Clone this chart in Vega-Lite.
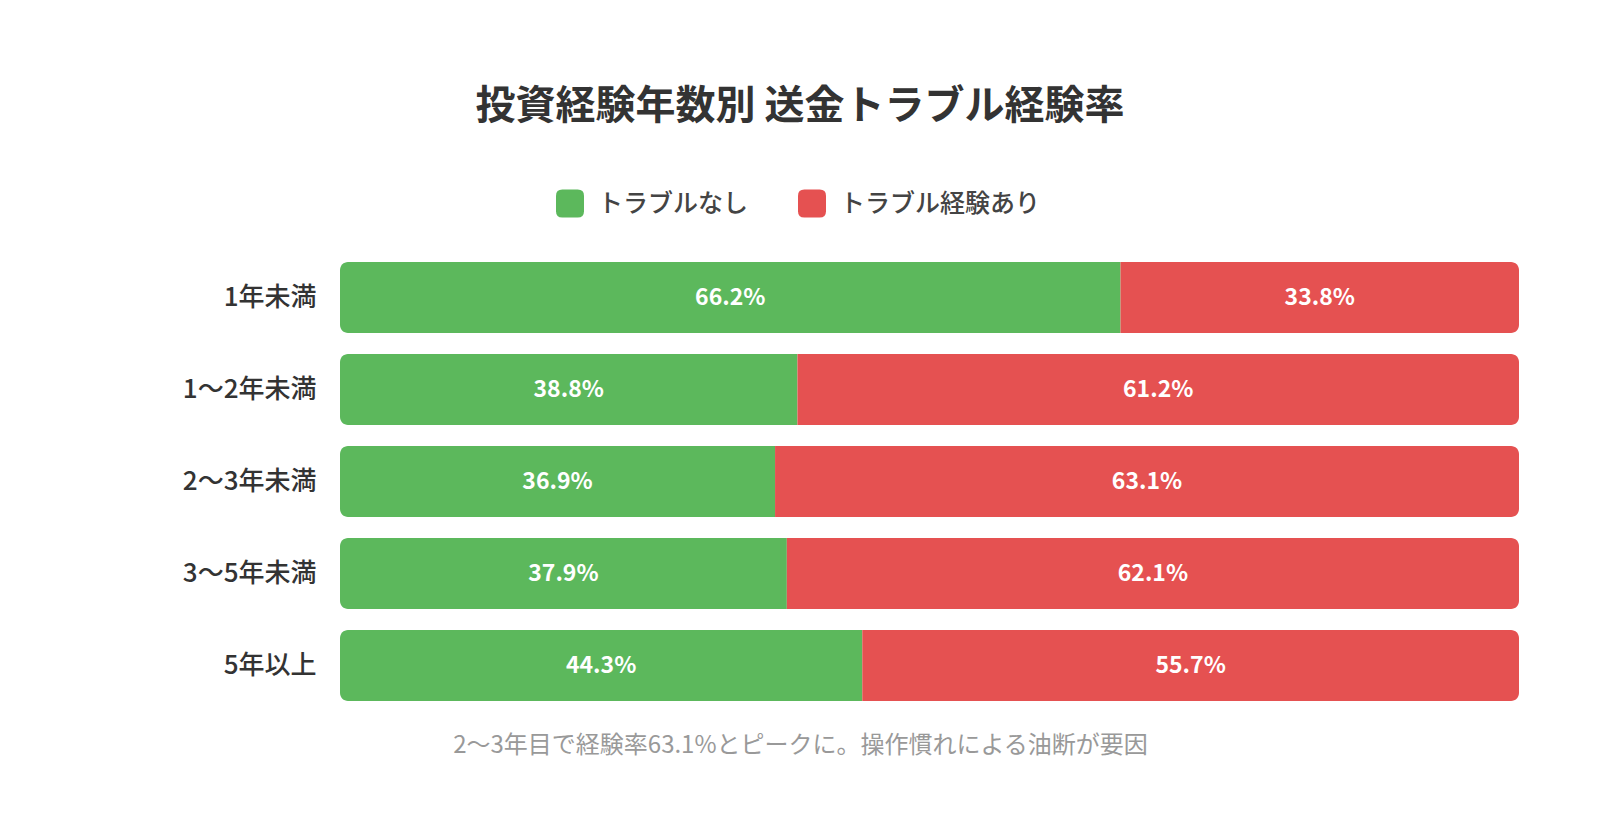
{
  "$schema": "https://vega.github.io/schema/vega-lite/v6.json",
  "autosize": {"type": "none"},
  "width": 1179,
  "height": 460,
  "padding": {"left": 340, "top": 251.5, "right": 81, "bottom": 114.5},
  "background": "#ffffff",
  "title": {
    "text": "投資経験年数別 送金トラブル経験率",
    "anchor": "middle",
    "frame": "group",
    "dx": -129.5,
    "offset": 63,
    "fontSize": 40,
    "fontWeight": "bold",
    "color": "#333333",
    "font": "Noto Sans CJK JP"
  },
  "data": {
    "values": [
      {"group": "1年未満", "status": "トラブルなし", "pct": 66.2},
      {"group": "1年未満", "status": "トラブル経験あり", "pct": 33.8},
      {"group": "1〜2年未満", "status": "トラブルなし", "pct": 38.8},
      {"group": "1〜2年未満", "status": "トラブル経験あり", "pct": 61.2},
      {"group": "2〜3年未満", "status": "トラブルなし", "pct": 36.9},
      {"group": "2〜3年未満", "status": "トラブル経験あり", "pct": 63.1},
      {"group": "3〜5年未満", "status": "トラブルなし", "pct": 37.9},
      {"group": "3〜5年未満", "status": "トラブル経験あり", "pct": 62.1},
      {"group": "5年以上", "status": "トラブルなし", "pct": 44.3},
      {"group": "5年以上", "status": "トラブル経験あり", "pct": 55.7}
    ]
  },
  "transform": [
    {"stack": "pct", "groupby": ["group"], "sort": [{"field": "status", "order": "ascending"}], "as": ["x0", "x1"]},
    {"calculate": "(datum.x0 + datum.x1) / 2", "as": "mid"},
    {"calculate": "format(datum.pct, '.1f') + '%'", "as": "label"}
  ],
  "encoding": {
    "y": {
      "field": "group",
      "type": "nominal",
      "sort": ["1年未満", "1〜2年未満", "2〜3年未満", "3〜5年未満", "5年以上"],
      "scale": {"paddingInner": 0.23, "paddingOuter": 0.115},
      "axis": {
        "title": null,
        "domain": false,
        "ticks": false,
        "labelPadding": 24,
        "labelFontSize": 26,
        "labelFontWeight": 500,
        "labelColor": "#333333",
        "labelFont": "Noto Sans CJK JP",
        "labelLimit": 300
      }
    }
  },
  "layer": [
    {
      "transform": [{"filter": "datum.status === 'トラブルなし'"}],
      "mark": {"type": "bar", "cornerRadiusTopLeft": 8, "cornerRadiusBottomLeft": 8},
      "encoding": {
        "x": {
          "field": "x0",
          "type": "quantitative",
          "scale": {"domain": [0, 100], "nice": false},
          "axis": {
            "title": "2〜3年目で経験率63.1%とピークに。操作慣れによる油断が要因",
            "titleX": 460,
            "titlePadding": 22,
            "titleFontSize": 24,
            "titleFontWeight": "normal",
            "titleColor": "#999999",
            "titleFont": "Noto Sans CJK JP",
            "labels": false,
            "ticks": false,
            "domain": false,
            "grid": false
          }
        },
        "x2": {"field": "x1"},
        "color": {
          "field": "status",
          "type": "nominal",
          "scale": {"domain": ["トラブルなし", "トラブル経験あり"], "range": ["#5cb85c", "#e55151"]},
          "legend": {
            "title": null,
            "orient": "none",
            "direction": "horizontal",
            "legendX": 216,
            "legendY": -62,
            "symbolType": "M-0.55,-1H0.55Q1,-1,1,-0.55V0.55Q1,1,0.55,1H-0.55Q-1,1,-1,0.55V-0.55Q-1,-1,-0.55,-1Z",
            "symbolSize": 784,
            "symbolStrokeWidth": 0,
            "labelFontSize": 25,
            "labelColor": "#444444",
            "labelFont": "Noto Sans CJK JP",
            "labelFontWeight": 500,
            "labelOffset": 14,
            "columnPadding": 49,
            "labelLimit": 400
          }
        }
      }
    },
    {
      "transform": [{"filter": "datum.status === 'トラブル経験あり'"}],
      "mark": {"type": "bar", "cornerRadiusTopRight": 8, "cornerRadiusBottomRight": 8},
      "encoding": {
        "x": {"field": "x0", "type": "quantitative"},
        "x2": {"field": "x1"},
        "color": {"field": "status", "type": "nominal"}
      }
    },
    {
      "mark": {"type": "text", "color": "#ffffff", "fontSize": 23, "fontWeight": "bold", "font": "Noto Sans CJK JP"},
      "encoding": {
        "x": {"field": "mid", "type": "quantitative"},
        "text": {"field": "label"}
      }
    }
  ],
  "config": {
    "view": {"stroke": null}
  }
}
